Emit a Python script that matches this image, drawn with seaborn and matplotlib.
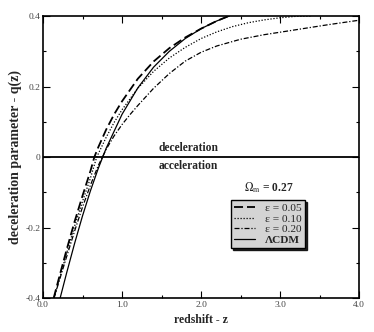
import pandas as pd
import matplotlib
matplotlib.use('Agg')
import matplotlib.pyplot as plt
from matplotlib.ticker import MultipleLocator, FixedLocator
import seaborn as sns

# DATA
z_eps005 = [0.135, 0.2, 0.3, 0.4, 0.5, 0.6, 0.65, 0.7, 0.8, 0.9, 1.0, 1.2, 1.4, 1.6, 1.8, 2.0, 2.2, 2.35]
q_eps005 = [-0.40, -0.345, -0.262, -0.183, -0.110, -0.040, 0.0, 0.028, 0.078, 0.121, 0.158, 0.222, 0.271, 0.309, 0.339, 0.364, 0.386, 0.40]

z_eps010 = [0.14, 0.2, 0.3, 0.4, 0.5, 0.6, 0.68, 0.8, 0.9, 1.0, 1.2, 1.4, 1.6, 1.8, 2.0, 2.2, 2.4, 2.6, 2.8, 3.0, 3.2, 3.4]
q_eps010 = [-0.40, -0.352, -0.272, -0.196, -0.126, -0.060, 0.0, 0.056, 0.098, 0.134, 0.195, 0.243, 0.281, 0.311, 0.336, 0.355, 0.370, 0.381, 0.389, 0.395, 0.399, 0.40]

z_eps020 = [0.14, 0.2, 0.3, 0.4, 0.5, 0.6, 0.7, 0.8, 0.9, 1.0, 1.1, 1.2, 1.4, 1.6, 1.8, 2.0, 2.2, 2.5, 2.8, 3.2, 3.6, 4.0]
q_eps020 = [-0.40, -0.355, -0.282, -0.210, -0.142, -0.080, -0.024, 0.022, 0.060, 0.092, 0.120, 0.146, 0.195, 0.237, 0.272, 0.297, 0.315, 0.334, 0.347, 0.361, 0.375, 0.388]

z_lcdm = [0.217, 0.3, 0.4, 0.5, 0.6, 0.7, 0.8, 1.0, 1.2, 1.4, 1.6, 1.8, 2.0, 2.2, 2.36]
q_lcdm = [-0.40, -0.328, -0.245, -0.167, -0.096, -0.032, 0.025, 0.121, 0.196, 0.255, 0.300, 0.336, 0.364, 0.386, 0.40]

labels = ['\u03b5 = 0.05', '\u03b5 = 0.10', '\u03b5 = 0.20', '\u039bCDM']
x_ticks = [0, 1, 2, 3, 4]
x_tick_labels = ['0.0', '1.0', '2.0', '3.0', '4.0']
y_ticks = [-0.4, -0.2, 0, 0.2, 0.4]
y_tick_labels = ['-0.4', '-0.2', '0', '0.2', '0.4']

sns.set_style('ticks')
plt.rcParams['font.family'] = ['Liberation Serif', 'DejaVu Serif']
plt.rcParams['mathtext.fontset'] = 'stix'

fig = plt.figure(figsize=(3.74, 3.32), dpi=100)
ax = fig.add_axes([0.115, 0.1024, 0.845, 0.8494])

series = [
    (z_eps005, q_eps005, (0, (5, 2.2)), 1.3),
    (z_eps010, q_eps010, (0, (1, 1.4)), 0.9),
    (z_eps020, q_eps020, (0, (4, 1.5, 1, 1.5)), 0.9),
    (z_lcdm, q_lcdm, '-', 0.9),
]
for (zz, qq, ls, lw), lab in zip(series, labels):
    df = pd.DataFrame({'z': zz, 'q': qq})
    sns.lineplot(data=df, x='z', y='q', ax=ax, color='black', linestyle=ls,
                 linewidth=lw, label=lab, sort=True)

# zero line
ax.axhline(0, color='black', lw=1.3)
ax.text(1.84, 0.008, 'deceleration', ha='center', va='bottom', fontsize=8.3, fontweight='bold')
ax.text(1.84, -0.009, 'acceleration', ha='center', va='top', fontsize=8.3, fontweight='bold')

ax.set_xlim(0, 4)
ax.set_ylim(-0.4, 0.4)
ax.xaxis.set_major_locator(FixedLocator(x_ticks))
ax.set_xticklabels(x_tick_labels)
ax.yaxis.set_major_locator(FixedLocator(y_ticks))
ax.set_yticklabels(y_tick_labels)
ax.xaxis.set_minor_locator(MultipleLocator(0.5))
ax.yaxis.set_minor_locator(MultipleLocator(0.1))
ax.tick_params(which='both', direction='in', top=True, right=True, colors='black',
               labelcolor='#444444', labelsize=6.8, width=0.8, pad=2)
ax.tick_params(which='major', length=5)
ax.tick_params(which='minor', length=2.5)
for sp in ax.spines.values():
    sp.set_linewidth(1.2)
    sp.set_color('black')

ax.set_xlabel('redshift - z', fontsize=8.5, fontweight='bold', labelpad=4)
ax.set_ylabel('deceleration parameter - q(z)', fontsize=10, fontweight='bold', labelpad=2)

leg = ax.legend(loc='upper left', bbox_to_anchor=(0.595, 0.348), fontsize=8.2,
                handlelength=1.8, handletextpad=0.9, labelspacing=0.05,
                borderpad=0.3, borderaxespad=0.0, fancybox=False,
                shadow={'ox': 1.5, 'oy': -1.5, 'color': 'black', 'alpha': 0.85},
                frameon=True)
leg.get_frame().set_facecolor('#d4d4d4')
leg.get_frame().set_edgecolor('black')
leg.get_frame().set_linewidth(1.0)
leg.get_texts()[3].set_fontweight('bold')

ax.text(0.713, 0.365, r'$\Omega_{\mathrm{m}}$ = 0.27', transform=ax.transAxes,
        ha='center', va='bottom', fontsize=8.3, fontweight='bold')

fig.savefig('out.png', dpi=100)
